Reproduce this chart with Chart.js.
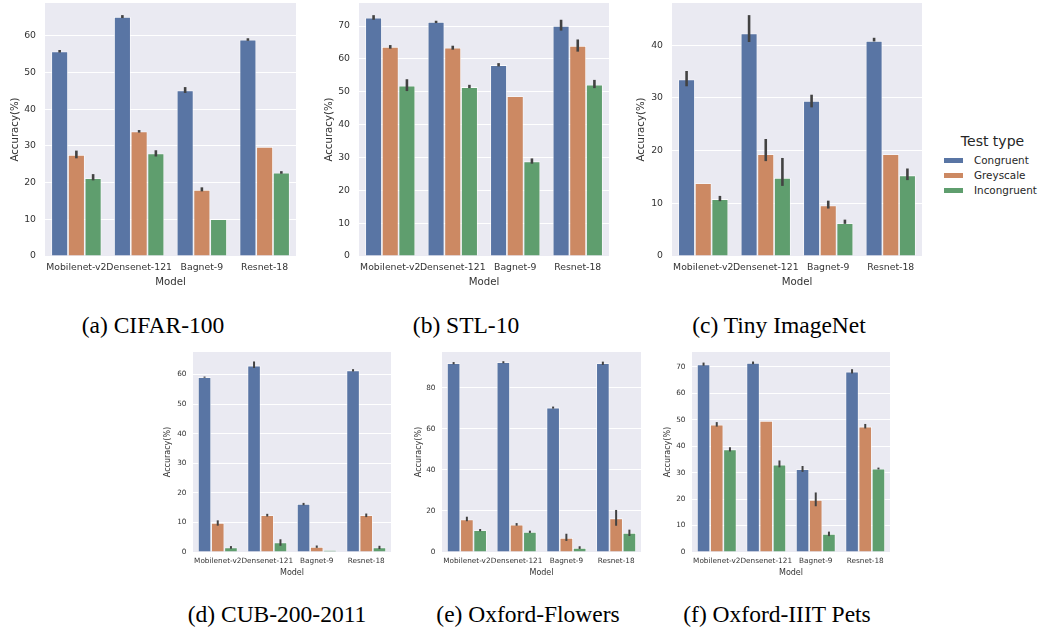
<!DOCTYPE html>
<html><head><meta charset="utf-8">
<script src="https://cdn.jsdelivr.net/npm/chart.js@4.4.0/dist/chart.umd.min.js"></script>
<style>
html,body{margin:0;padding:0;background:#fff;width:1039px;height:630px;overflow:hidden;position:relative}
.panel{position:absolute}
.cap{position:absolute;font-family:"Liberation Serif";font-size:23.5px;color:#000;white-space:nowrap;transform:translate(-50%,-50%);line-height:1}
.leg{position:absolute;font-family:"DejaVu Sans";color:#262626;white-space:nowrap}
.sw{position:absolute;width:19px;height:5px}
</style>
</head><body>
<div id="wrap"></div>
<div class="cap" style="left:153px;top:326px">(a) CIFAR-100</div>
<div class="cap" style="left:466px;top:326px">(b) STL-10</div>
<div class="cap" style="left:779px;top:326px">(c) Tiny ImageNet</div>
<div class="cap" style="left:277px;top:615px">(d) CUB-200-2011</div>
<div class="cap" style="left:528px;top:615px">(e) Oxford-Flowers</div>
<div class="cap" style="left:777px;top:615px">(f) Oxford-IIIT Pets</div>
<div id="legend"></div>
<script>
// ---- data ----
const models = ["Mobilenet-v2", "Densenet-121", "Bagnet-9", "Resnet-18"];
const testTypes = ["Congruent", "Greyscale", "Incongruent"];

const cifarCongruent   = [55.7, 65.1, 45.1, 58.9];
const cifarGreyscale   = [27.5, 33.9, 18.0, 29.7];
const cifarIncongruent = [21.2, 27.9, 10.0, 22.7];
const cifarCongruentCI   = [[55.4, 56.1], [64.8, 65.6], [44.4, 46.0], [58.6, 59.3]];
const cifarGreyscaleCI   = [[26.6, 28.7], [33.6, 34.3], [17.6, 18.7], null];
const cifarIncongruentCI = [[20.6, 22.3], [27.1, 28.8], null, [22.4, 23.1]];

const stlCongruent   = [72.5, 71.2, 58.1, 70.0];
const stlGreyscale   = [63.6, 63.4, 48.6, 63.9];
const stlIncongruent = [51.8, 51.4, 28.8, 52.1];
const stlCongruentCI   = [[71.9, 73.3], [70.9, 71.6], [57.7, 58.7], [68.6, 71.9]];
const stlGreyscaleCI   = [[63.1, 64.2], [62.8, 64.0], null, [62.2, 65.9]];
const stlIncongruentCI = [[50.2, 53.8], [51.1, 52.1], [28.1, 29.7], [51.1, 53.6]];

const tinyCongruent   = [33.5, 42.2, 29.4, 40.8];
const tinyGreyscale   = [13.8, 19.3, 9.6, 19.3];
const tinyIncongruent = [10.8, 14.8, 6.2, 15.3];
const tinyCongruentCI   = [[32.2, 35.1], [40.6, 45.7], [28.2, 30.6], [40.7, 41.4]];
const tinyGreyscaleCI   = [null, [18.0, 22.2], [9.0, 10.5], null];
const tinyIncongruentCI = [[10.4, 11.4], [13.3, 18.6], [6.1, 6.9], [14.4, 16.6]];

const cubCongruent   = [59.1, 63.0, 16.2, 61.4];
const cubGreyscale   = [9.8, 12.4, 1.7, 12.4];
const cubIncongruent = [1.5, 3.2, 0.6, 1.5];
const cubCongruentCI   = [[58.9, 59.3], [62.2, 64.4], [15.8, 16.6], [61.0, 61.8]];
const cubGreyscaleCI   = [[8.9, 10.7], [12.0, 12.9], [1.4, 2.2], [11.8, 13.0]];
const cubIncongruentCI = [[1.1, 2.0], [2.1, 4.3], null, [1.0, 2.1]];

const flowersCongruent   = [92.0, 92.5, 70.4, 92.0];
const flowersGreyscale   = [15.9, 13.3, 6.8, 16.4];
const flowersIncongruent = [10.6, 9.8, 2.0, 9.3];
const flowersCongruentCI   = [[91.5, 92.6], [92.0, 93.0], [69.9, 70.9], [91.2, 92.8]];
const flowersGreyscaleCI   = [[15.0, 17.2], [12.8, 14.1], [5.4, 8.9], [12.8, 20.5]];
const flowersIncongruentCI = [[10.1, 11.2], [9.3, 10.4], [1.5, 2.8], [7.8, 10.9]];

const petsCongruent   = [70.9, 71.5, 31.3, 68.2];
const petsGreyscale   = [48.1, 49.5, 19.7, 47.4];
const petsIncongruent = [38.8, 33.0, 6.8, 31.5];
const petsCongruentCI   = [[70.4, 71.6], [71.0, 72.0], [30.3, 32.5], [67.5, 69.1]];
const petsGreyscaleCI   = [[47.4, 49.1], null, [17.3, 22.5], [46.7, 48.4]];
const petsIncongruentCI = [[38.0, 39.6], [32.0, 34.6], [6.0, 7.7], [31.2, 31.9]];

const yAxisMax  = [68.9, 77.0, 48.0, 67.6, 97.5, 75.6];
const yAxisStep = [10, 10, 10, 10, 20, 10];

// ---- style / layout ----
const colors = ["#5975A4", "#CC8963", "#5F9E6E"];
const FONT = "DejaVu Sans";
const TEXT = "#333333";

const panelValues = [
  [cifarCongruent, cifarGreyscale, cifarIncongruent],
  [stlCongruent, stlGreyscale, stlIncongruent],
  [tinyCongruent, tinyGreyscale, tinyIncongruent],
  [cubCongruent, cubGreyscale, cubIncongruent],
  [flowersCongruent, flowersGreyscale, flowersIncongruent],
  [petsCongruent, petsGreyscale, petsIncongruent]
];
const panelCI = [
  [cifarCongruentCI, cifarGreyscaleCI, cifarIncongruentCI],
  [stlCongruentCI, stlGreyscaleCI, stlIncongruentCI],
  [tinyCongruentCI, tinyGreyscaleCI, tinyIncongruentCI],
  [cubCongruentCI, cubGreyscaleCI, cubIncongruentCI],
  [flowersCongruentCI, flowersGreyscaleCI, flowersIncongruentCI],
  [petsCongruentCI, petsGreyscaleCI, petsIncongruentCI]
];

const topRow = {T: 0, H: 300, plotT: 3, plotB: 256, modelY: 282, tickFont: 9.3, titleFont: 10.2, xTickPad: 6, yTickPad: 9, errW: 2.6};
const botRow = {T: 350, H: 230, plotT: 352, plotB: 552, modelY: 572.7, tickFont: 7.3, titleFont: 8, xTickPad: 4.5, yTickPad: 6.5, errW: 2.0};
const geoms = [
  Object.assign({L: 0,   W: 310, plotL: 45,  plotR: 296, yTitleX: 15},  topRow),
  Object.assign({L: 310, W: 310, plotL: 359, plotR: 609, yTitleX: 329}, topRow),
  Object.assign({L: 620, W: 310, plotL: 672, plotR: 922, yTitleX: 641.5}, topRow),
  Object.assign({L: 150, W: 250, plotL: 193, plotR: 391, yTitleX: 168.3}, botRow),
  Object.assign({L: 405, W: 245, plotL: 442, plotR: 641, yTitleX: 419}, botRow),
  Object.assign({L: 650, W: 250, plotL: 692, plotR: 890, yTitleX: 668.3}, botRow)
];

const bgPlugin = {
  id: 'plotBg',
  beforeDraw(chart) {
    const a = chart.chartArea, ctx = chart.ctx;
    ctx.save();
    ctx.fillStyle = '#EAEAF2';
    ctx.fillRect(a.left, a.top, a.right - a.left, a.bottom - a.top);
    ctx.restore();
  }
};
const errPlugin = {
  id: 'errBars',
  afterDatasetsDraw(chart, args, opts) {
    const ctx = chart.ctx, ys = chart.scales.y;
    ctx.save();
    ctx.strokeStyle = '#424242';
    ctx.lineWidth = opts.width || 2;
    ctx.lineCap = 'butt';
    chart.data.datasets.forEach((ds, i) => {
      const meta = chart.getDatasetMeta(i);
      (ds.ci || []).forEach((ci, j) => {
        if (!ci) return;
        const x = meta.data[j].x;
        ctx.beginPath();
        ctx.moveTo(x, ys.getPixelForValue(ci[0]));
        ctx.lineTo(x, ys.getPixelForValue(ci[1]));
        ctx.stroke();
      });
    });
    ctx.restore();
  }
};

const wrap = document.getElementById('wrap');
geoms.forEach((g, p) => {
  const div = document.createElement('div');
  div.className = 'panel';
  div.style.left = g.L + 'px'; div.style.top = g.T + 'px';
  div.style.width = g.W + 'px'; div.style.height = g.H + 'px';
  const cv = document.createElement('canvas');
  cv.width = g.W; cv.height = g.H;
  cv.style.width = g.W + 'px'; cv.style.height = g.H + 'px';
  div.appendChild(cv);
  wrap.appendChild(div);

  const titleLH = g.titleFont * 1.2;
  const YW = g.plotL - g.L;
  const XH = g.modelY - g.plotB + titleLH / 2;
  const padR = g.L + g.W - g.plotR;
  const padT = g.plotT - g.T;
  const padB = g.T + g.H - g.plotB - XH;
  const yTitlePad = g.yTitleX - g.L - titleLH / 2;

  new Chart(cv, {
    type: 'bar',
    data: {
      labels: models,
      datasets: testTypes.map((t, i) => ({
        label: t,
        data: panelValues[p][i],
        ci: panelCI[p][i],
        backgroundColor: colors[i],
        borderColor: 'rgba(255,255,255,0.85)',
        borderWidth: 0.8,
        borderSkipped: 'start',
        categoryPercentage: 0.8,
        barPercentage: 1.0
      }))
    },
    options: {
      responsive: false,
      animation: false,
      devicePixelRatio: 1,
      layout: {padding: {left: 0, right: padR, top: padT, bottom: padB}},
      plugins: {
        legend: {display: false},
        tooltip: {enabled: false},
        errBars: {width: g.errW}
      },
      scales: {
        x: {
          grid: {display: false, drawTicks: false},
          border: {display: false},
          ticks: {
            color: TEXT, font: {family: FONT, size: g.tickFont},
            padding: g.xTickPad, maxRotation: 0, minRotation: 0, autoSkip: false
          },
          title: {display: true, text: 'Model', color: TEXT,
                  font: {family: FONT, size: g.titleFont}, padding: {top: 0, bottom: 0}},
          afterFit(s) { s.height = XH; s.paddingLeft = 0; s.paddingRight = 0; }
        },
        y: {
          min: 0, max: yAxisMax[p],
          grid: {color: '#FFFFFF', lineWidth: 1, drawTicks: false},
          border: {display: false},
          ticks: {
            stepSize: yAxisStep[p], includeBounds: false,
            color: TEXT, font: {family: FONT, size: g.tickFont}, padding: g.yTickPad
          },
          title: {display: true, text: 'Accuracy(%)', color: TEXT,
                  font: {family: FONT, size: g.titleFont}, padding: {top: yTitlePad, bottom: 0}},
          afterFit(s) { s.width = YW; s.paddingTop = 0; s.paddingBottom = 0; }
        }
      }
    },
    plugins: [bgPlugin, errPlugin]
  });
});

// legend (HTML text)
const leg = document.getElementById('legend');
const lt = document.createElement('div');
lt.className = 'leg';
lt.style.cssText = 'left:992.5px;top:141px;font-size:14px;transform:translate(-50%,-50%);line-height:1';
lt.textContent = 'Test type';
leg.appendChild(lt);
const rowsY = [160, 175, 190];
testTypes.forEach((name, i) => {
  const sw = document.createElement('div');
  sw.className = 'sw';
  sw.style.left = '944px'; sw.style.top = (rowsY[i] - 2.5) + 'px';
  sw.style.background = colors[i];
  leg.appendChild(sw);
  const tx = document.createElement('div');
  tx.className = 'leg';
  tx.style.cssText = 'left:974px;top:' + rowsY[i] + 'px;font-size:10.4px;transform:translateY(-50%);line-height:1';
  tx.textContent = name;
  leg.appendChild(tx);
});
</script>
</body></html>
